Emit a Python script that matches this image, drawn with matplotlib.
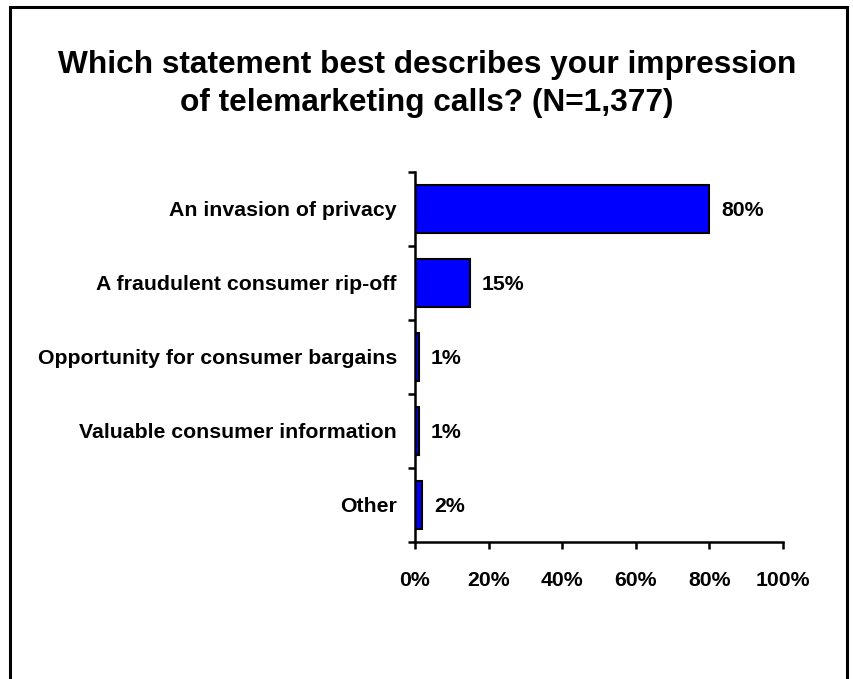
import matplotlib
matplotlib.use("Agg")
import matplotlib.pyplot as plt
from matplotlib.patches import Rectangle

plt.rcParams['font.family'] = ['Liberation Sans', 'DejaVu Sans']
plt.rcParams['font.weight'] = 'bold'

categories = [
    "An invasion of privacy",
    "A fraudulent consumer rip-off",
    "Opportunity for consumer bargains",
    "Valuable consumer information",
    "Other",
]
values = [80, 15, 1, 1, 2]
x_ticks = [0, 20, 40, 60, 80, 100]
x_tick_labels = ["0%", "20%", "40%", "60%", "80%", "100%"]
title_lines = ["Which statement best describes your impression",
               "of telemarketing calls? (N=1,377)"]

W, H = 854, 679
fig = plt.figure(figsize=(W / 100, H / 100), dpi=100)

# outer frame (open at the bottom edge)
fig.patches.append(Rectangle((10.5 / W, -0.05), (847 - 10.5) / W, 1.05 - 7 / H,
                             transform=fig.transFigure, fill=False,
                             edgecolor='black', linewidth=2.2))

fig.text(0.5, 1 - 73.5 / H, title_lines[0],
         ha='center', va='baseline', fontsize=22.8, fontweight='bold')
fig.text(0.5, 1 - 110.5 / H, title_lines[1],
         ha='center', va='baseline', fontsize=22.8, fontweight='bold')

ax = fig.add_axes([415 / W, 1 - 542 / H, (783 - 415) / W, (542 - 172) / H])
pos = list(range(len(categories)))
ax.barh(pos, values, height=0.66, color='#0000FF', edgecolor='black', linewidth=1.5)

fs = 15.3
for p, v in zip(pos, values):
    ax.annotate(f"{v}%", (v, p), xytext=(8.5, -1), textcoords='offset points',
                ha='left', va='center', fontsize=fs, fontweight='bold')

ax.set_xlim(0, 100)
ax.set_ylim(len(categories) - 0.5, -0.5)
ax.set_xticks(x_ticks)
ax.set_xticklabels(x_tick_labels, fontsize=fs, fontweight='bold')
ax.set_yticks(pos)
ax.set_yticklabels(categories, fontsize=fs, fontweight='bold')
ax.set_yticks([p - 0.5 for p in pos] + [len(categories) - 0.5], minor=True)

ax.tick_params(axis='x', direction='out', length=5, width=1.8, pad=16)
ax.tick_params(axis='y', which='major', length=0, pad=13)
ax.tick_params(axis='y', which='minor', direction='out', length=5, width=1.8)

for s in ['top', 'right']:
    ax.spines[s].set_visible(False)
for s in ['left', 'bottom']:
    ax.spines[s].set_linewidth(1.8)

fig.savefig("out.png", dpi=100)
